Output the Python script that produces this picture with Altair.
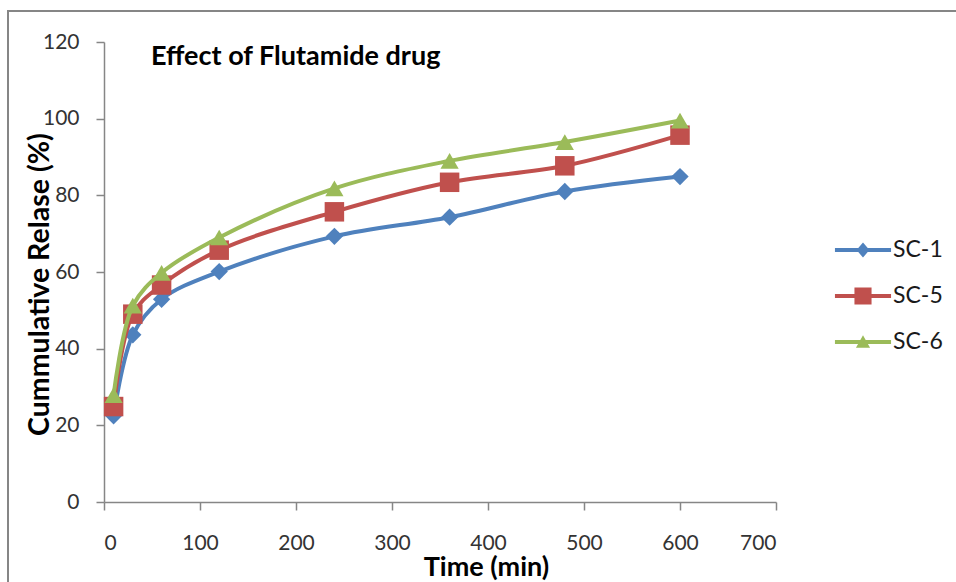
import altair as alt
import pandas as pd

# ---- data ----
times = [10, 30, 60, 120, 240, 360, 480, 600]
sc1 = [22.5, 43.6, 52.9, 60.1, 69.3, 74.3, 81.0, 84.9]
sc5 = [24.9, 49.0, 56.6, 65.7, 75.7, 83.4, 87.7, 95.7]
sc6 = [27.9, 51.2, 59.8, 69.0, 81.8, 89.0, 93.9, 99.5]
series_names = ["SC-1", "SC-5", "SC-6"]
series_values = [sc1, sc5, sc6]
colors = ["#4F81BD", "#C0504D", "#9BBB59"]
marker_shapes = ["diamond", "square", "triangle-up"]
marker_sizes = [300, 380, 330]
x_ticks = [0, 100, 200, 300, 400, 500, 600, 700]
y_ticks = [0, 20, 40, 60, 80, 100, 120]

rows = []
for name, vals in zip(series_names, series_values):
    for t, v in zip(times, vals):
        rows.append({"time": t, "value": v, "series": name})
df = pd.DataFrame(rows)

FONT = "Lato"

# composite legend symbols: line + marker (unit coords, scaled by sqrt(size)/2)
LINE = "M-1.87,-0.14 L1.87,-0.14 L1.87,0.14 L-1.87,0.14 Z "
LEG_PATHS = {
    "SC-1": LINE + "M0,-0.5 L0.43,0 L0,0.5 L-0.43,0 Z",
    "SC-5": LINE + "M-0.57,-0.57 L0.57,-0.57 L0.57,0.57 L-0.57,0.57 Z",
    "SC-6": LINE + "M0,-0.45 L0.47,0.38 L-0.47,0.38 Z",
}
shape_expr = (
    f"datum.value === 'SC-1' ? '{LEG_PATHS['SC-1']}' : "
    f"(datum.value === 'SC-5' ? '{LEG_PATHS['SC-5']}' : '{LEG_PATHS['SC-6']}')"
)

x_enc = alt.X(
    "time:Q",
    scale=alt.Scale(domain=[0, 700], nice=False),
    axis=alt.Axis(
        values=x_ticks,
        title="Time (min)",
        titleX=382,
        titleY=52,
        titleBaseline="top",
        titleAlign="center",
        labelPadding=22,
    ),
)
y_enc = alt.Y(
    "value:Q",
    scale=alt.Scale(domain=[0, 120], nice=False),
    axis=alt.Axis(
        values=y_ticks,
        title="Cummulative Relase (%)",
        titleX=-65,
        titleY=242,
        titleAngle=-90,
        titleBaseline="middle",
        titleAlign="center",
        titleFontSize=28.5,
        labelPadding=17,
    ),
)
color_scale = alt.Scale(domain=series_names, range=colors)

layers = []
for name, col, shp, sz in zip(series_names, colors, marker_shapes, marker_sizes):
    base = alt.Chart(df).transform_filter(alt.datum.series == name)
    layers.append(
        base.mark_line(interpolate="catmull-rom", strokeWidth=4, color=col).encode(
            x=x_enc, y=y_enc
        )
    )
    layers.append(
        base.mark_point(
            filled=True, opacity=1, strokeWidth=0, size=sz, shape=shp, color=col
        ).encode(x="time:Q", y="value:Q")
    )

legend_layer = alt.Chart(df).mark_point(filled=True, opacity=0).encode(
    x="time:Q",
    y="value:Q",
    color=alt.Color(
        "series:N",
        scale=color_scale,
        legend=alt.Legend(
            title=None,
            orient="none",
            legendX=744,
            legendY=193,
            symbolSize=900,
            symbolStrokeWidth=0,
            symbolOpacity=1,
            symbolType=alt.ExprRef(expr=shape_expr),
            labelOffset=15,
            rowPadding=19,
            labelFont=FONT,
            labelFontSize=23,
            labelColor="#1a1a1a",
        ),
    ),
)

frame = alt.Chart(pd.DataFrame({"k": [0]})).mark_rect(
    fillOpacity=0, stroke="#868686", strokeWidth=2
).encode(
    x=alt.value(-96), x2=alt.value(900), y=alt.value(-31), y2=alt.value(620)
)

chart = alt.layer(frame, legend_layer, *layers).properties(
    width=672,
    height=460,
    background="white",
    autosize=alt.AutoSizeParams(type="none"),
    padding={"left": 104, "top": 42, "right": 180, "bottom": 80},
    title=alt.TitleParams(
        "Effect of Flutamide drug",
        anchor="start",
        frame="group",
        dx=47,
        dy=86,
        baseline="alphabetic",
        font=FONT,
        fontSize=27,
        fontWeight="bold",
        color="#000000",
    ),
).configure_view(stroke=None).configure_axis(
    grid=False,
    domainColor="#868686",
    domainWidth=1.5,
    tickColor="#868686",
    tickWidth=1.5,
    tickSize=8,
    labelFont=FONT,
    labelFontSize=21,
    labelColor="#333333",
    titleFont=FONT,
    titleFontSize=27,
    titleFontWeight="bold",
    titleColor="#000000",
)

chart.save("out.html", embed_options={"renderer": "svg", "actions": False})
